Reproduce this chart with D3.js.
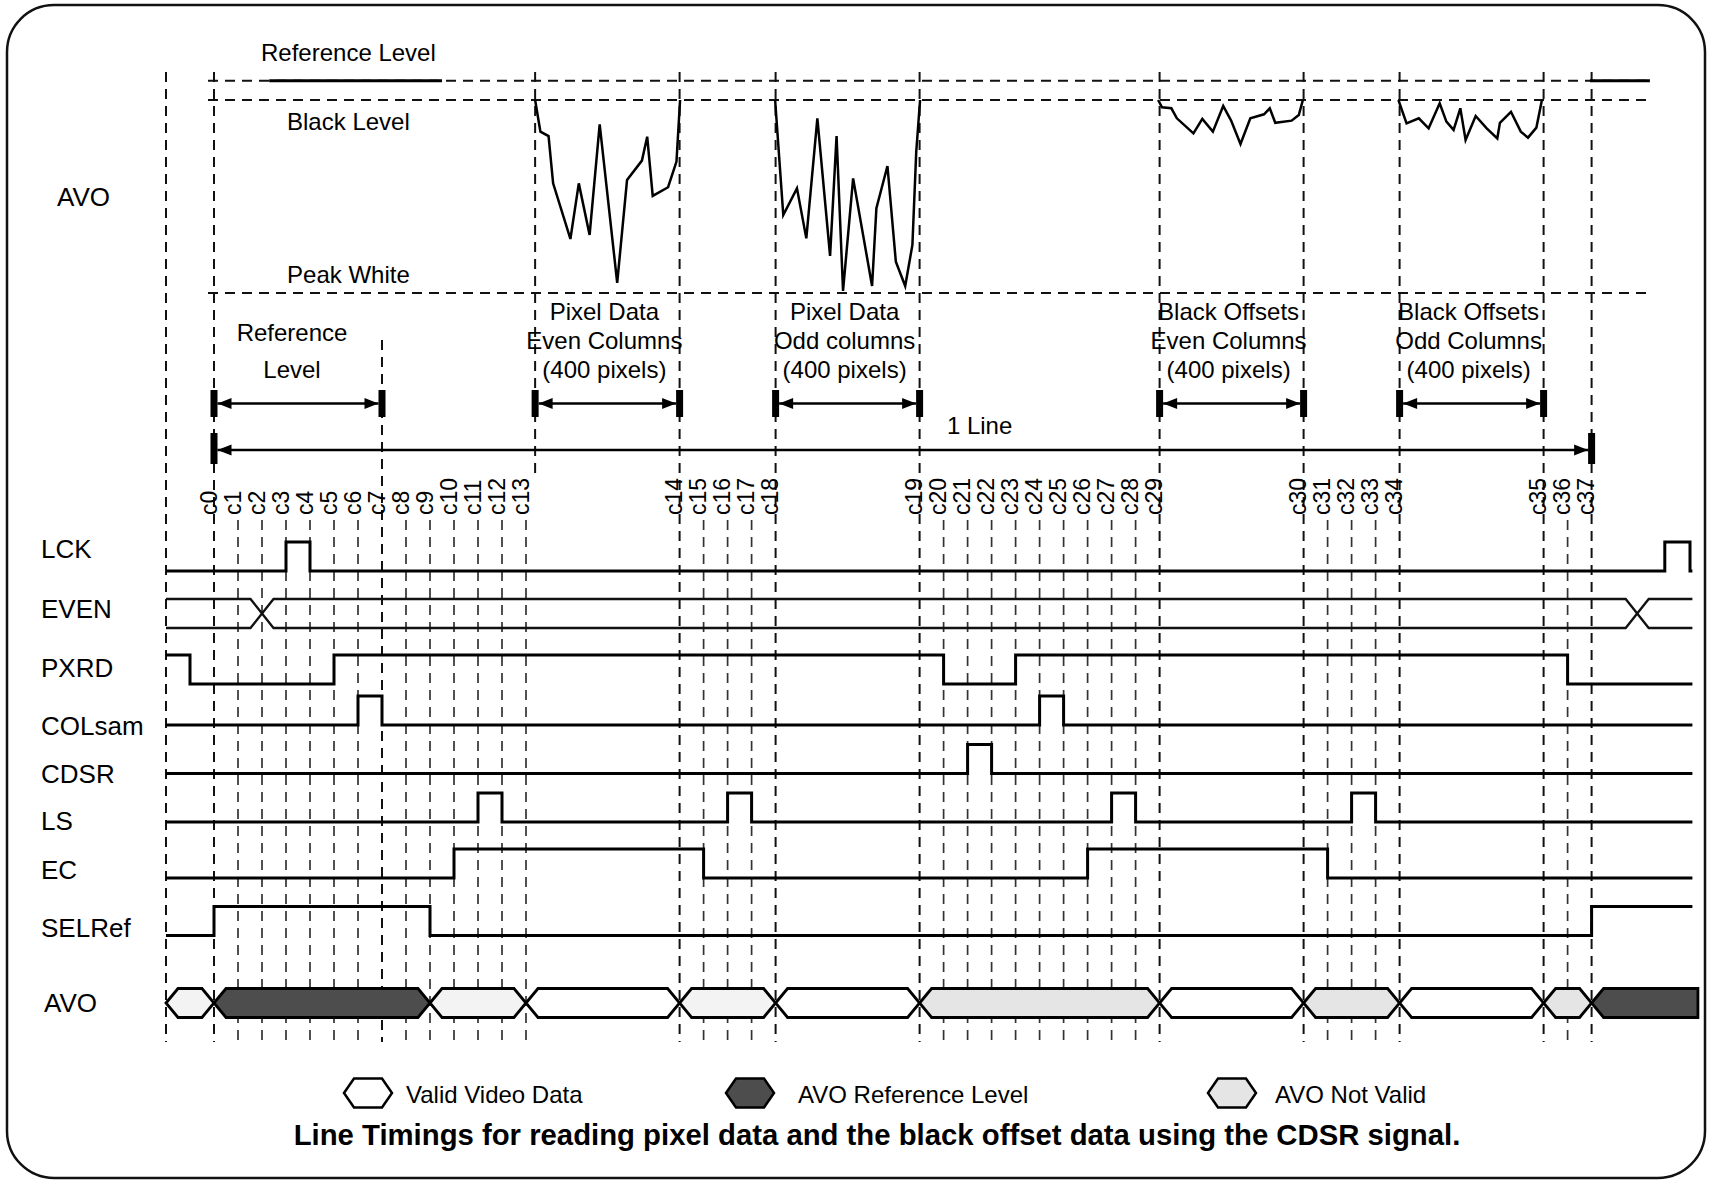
<!DOCTYPE html>
<html>
<head>
<meta charset="utf-8">
<script src="https://cdn.jsdelivr.net/npm/d3@7"></script>
<style>
  body { margin: 0; background: #fff; }
  svg { display: block; font-family: 'Liberation Sans', Arial, Helvetica, sans-serif; }
</style>
</head>
<body>
<svg id="chart" width="1716" height="1181"></svg>
<script>
// time unit = one LCK period; c0 = 0
const columnTimes = [0, 1, 2, 3, 4, 5, 6, 7, 8, 9, 10, 11, 12, 13,
  19.4, 20.4, 21.4, 22.4, 23.4,
  29.4, 30.4, 31.4, 32.4, 33.4, 34.4, 35.4, 36.4, 37.4, 38.4, 39.4,
  45.4, 46.4, 47.4, 48.4, 49.4,
  55.4, 56.4, 57.4];
const columnLabels = ['c0', 'c1', 'c2', 'c3', 'c4', 'c5', 'c6', 'c7', 'c8', 'c9', 'c10', 'c11', 'c12', 'c13',
  'c14', 'c15', 'c16', 'c17', 'c18', 'c19', 'c20', 'c21', 'c22', 'c23', 'c24', 'c25', 'c26', 'c27', 'c28', 'c29',
  'c30', 'c31', 'c32', 'c33', 'c34', 'c35', 'c36', 'c37'];

// long marker lines of the AVO panel
const markerTimes = [-2, 0, 7, 13.38, 19.4, 23.4, 29.4, 39.4, 45.4, 49.4, 55.4, 57.4];

// AVO levels (0 = black, 100 = peak white)
const levelNames = ['Reference Level', 'Black Level', 'Peak White'];
const levelValues = [-10, 0, 100];
const refSegments = [[2.3, 9.5], [57.33, 59.83]];

// AVO analogue samples [time, level]
const pixelEven = [[13.38, 0], [13.6, 16.4], [13.94, 18.7], [14.13, 43.2], [14.85, 72], [15.2, 43.2],
  [15.65, 69.9], [16.07, 12.6], [16.8, 94.7], [17.21, 41.5], [17.83, 31.4], [18.05, 19], [18.28, 49.7],
  [18.92, 45.2], [19.27, 31.9], [19.42, 0]];
const pixelOdd = [[23.38, 0], [23.72, 59.6], [24.29, 45.8], [24.68, 71.7], [25.14, 9.5], [25.67, 80.8],
  [25.94, 18.7], [26.21, 98.9], [26.63, 40.6], [27.42, 96.4], [27.6, 56.1], [28.06, 34.2], [28.41, 83.8],
  [28.8, 96.4], [29.1, 75.1], [29.26, 26.8], [29.42, 0]];
const offsetEven = [[39.34, 0], [39.5, 3.8], [39.89, 4.3], [40.12, 9.5], [40.81, 17.3], [41.18, 9.8],
  [41.62, 16.4], [42.05, 3.1], [42.38, 10.7], [42.77, 22.8], [43.18, 9.5], [43.75, 7.4], [43.99, 4.3],
  [44.22, 11.8], [44.9, 10.7], [45.2, 7.8], [45.37, 0]];
const offsetOdd = [[49.35, 0], [49.69, 12.1], [50.2, 9.5], [50.61, 14.7], [51.07, 1.7], [51.35, 11.2],
  [51.65, 15.5], [51.93, 4.3], [52.15, 20.7], [52.57, 8.3], [53.03, 14.7], [53.47, 19.9], [53.58, 11.8],
  [54.04, 6.1], [54.45, 16.4], [54.75, 19.5], [55.1, 14.3], [55.33, 0]];

// spans with arrows
const spans = [[0, 7], [13.38, 19.4], [23.4, 29.4], [39.4, 45.4], [49.4, 55.4]];
const spanTexts = [
  ['Reference', 'Level'],
  ['Pixel Data', 'Even Columns', '(400 pixels)'],
  ['Pixel Data', 'Odd columns', '(400 pixels)'],
  ['Black Offsets', 'Even Columns', '(400 pixels)'],
  ['Black Offsets', 'Odd Columns', '(400 pixels)']
];
const lineSpan = [0, 57.4];

// digital signals: [time, level] from that time on
const rowNames = ['LCK', 'EVEN', 'PXRD', 'COLsam', 'CDSR', 'LS', 'EC', 'SELRef', 'AVO'];
const lck = [[-2, 0], [3, 1], [4, 0], [60.45, 1], [61.5, 0]];
const evenCross = [2, 59.3];
const pxrd = [[-2, 1], [-1, 0], [5, 1], [30.4, 0], [33.4, 1], [56.4, 0]];
const colsam = [[-2, 0], [6, 1], [7, 0], [34.4, 1], [35.4, 0]];
const cdsr = [[-2, 0], [31.4, 1], [32.4, 0]];
const ls = [[-2, 0], [11, 1], [12, 0], [21.4, 1], [22.4, 0], [37.4, 1], [38.4, 0], [47.4, 1], [48.4, 0]];
const ec = [[-2, 0], [10, 1], [20.4, 0], [36.4, 1], [46.4, 0]];
const selref = [[-2, 0], [0, 1], [9, 0], [57.4, 1]];

// AVO bus
const busEdges = [-2, 0, 9, 13, 19.4, 23.4, 29.4, 39.4, 45.4, 49.4, 55.4, 57.4, 61.83];
const busStates = ['idle', 'ref', 'idle', 'valid', 'idle', 'valid', 'invalid', 'valid', 'invalid', 'valid', 'invalid', 'ref'];

const legendStates = ['valid', 'ref', 'invalid'];
const legendTexts = ['Valid Video Data', 'AVO Reference Level', 'AVO Not Valid'];
const caption = 'Line Timings for reading pixel data and the black offset data using the CDSR signal.';

const tStart = -2;
const tEnd = 61.6;

const svg = d3.select('#chart');
const x = d3.scaleLinear().domain([-2, 61.6]).range([166, 1692.4]);
const yA = d3.scaleLinear().domain([0, 100]).range([100, 293]);
const rowLow = d3.scaleOrdinal().domain(rowNames).range([571, 628, 684, 725, 773.5, 822, 878, 935.5, 1003]);
const rowLabelY = d3.scaleOrdinal().domain(rowNames).range([549, 608.5, 667.5, 725.5, 773.5, 821, 870, 928, 1002.5]);
const pulseH = 29;
const busFill = d3.scaleOrdinal().domain(['valid', 'ref', 'invalid', 'idle']).range(['#ffffff', '#4d4d4d', '#e5e5e5', '#f3f3f3']);

// frame
svg.append('rect')
  .attr('x', 7).attr('y', 5)
  .attr('width', 1698).attr('height', 1173)
  .attr('rx', 47)
  .attr('fill', 'none')
  .attr('stroke', '#111')
  .attr('stroke-width', 2.5);

// dashed grid
const grid = svg.append('g').attr('stroke', '#111').attr('stroke-dasharray', '10,7');
markerTimes.forEach(t => {
  const isColumn = t === -2 || columnTimes.includes(t);
  grid.append('line')
    .attr('x1', x(t)).attr('x2', x(t))
    .attr('y1', t === 7 ? 340 : 72)
    .attr('y2', isColumn ? 1042 : 476)
    .attr('stroke-width', 2);
});
columnTimes.filter(t => !markerTimes.includes(t)).forEach(t => {
  grid.append('line')
    .attr('x1', x(t)).attr('x2', x(t))
    .attr('y1', 520).attr('y2', 1042)
    .attr('stroke', '#333')
    .attr('stroke-width', 1.7);
});
levelValues.forEach(v => {
  grid.append('line')
    .attr('x1', x(-0.25)).attr('x2', x(59.83))
    .attr('y1', yA(v)).attr('y2', yA(v))
    .attr('stroke-width', 2);
});

// level labels
svg.append('g').attr('font-size', 24).attr('text-anchor', 'middle')
  .selectAll('text').data(levelNames).join('text')
  .attr('x', x(5.6))
  .attr('y', (d, i) => [52.5, 121.5, 274.7][i])
  .attr('dy', '0.35em')
  .text(d => d);

// reference level segments
svg.append('g').selectAll('line').data(refSegments).join('line')
  .attr('x1', d => x(d[0])).attr('x2', d => x(d[1]))
  .attr('y1', yA(-10)).attr('y2', yA(-10))
  .attr('stroke', '#000').attr('stroke-width', 3);

// AVO waveforms
const wave = d3.line().x(d => x(d[0])).y(d => yA(d[1]));
svg.append('g').selectAll('path').data([pixelEven, pixelOdd, offsetEven, offsetOdd]).join('path')
  .attr('d', wave)
  .attr('fill', 'none')
  .attr('stroke', '#000')
  .attr('stroke-width', 2.5)
  .attr('stroke-linejoin', 'miter');

svg.append('text')
  .attr('x', 57).attr('y', 197).attr('dy', '0.35em')
  .attr('font-size', 26)
  .text('AVO');

// span arrows
function arrow(g, t0, t1, y, barTop, barBottom) {
  const bw = 7, head = 14, hh = 5.5;
  const xa = x(t0), xb = x(t1);
  [xa, xb].forEach(xx => {
    g.append('rect')
      .attr('x', xx - bw / 2).attr('y', barTop)
      .attr('width', bw).attr('height', barBottom - barTop)
      .attr('fill', '#000');
  });
  g.append('line')
    .attr('x1', xa + bw / 2).attr('x2', xb - bw / 2)
    .attr('y1', y).attr('y2', y)
    .attr('stroke', '#000').attr('stroke-width', 2.5);
  g.append('path')
    .attr('d', `M${xa + bw / 2},${y} l${head},${-hh} l0,${2 * hh} Z`)
    .attr('fill', '#000');
  g.append('path')
    .attr('d', `M${xb - bw / 2},${y} l${-head},${-hh} l0,${2 * hh} Z`)
    .attr('fill', '#000');
}
const arrows = svg.append('g');
spans.forEach(s => arrow(arrows, s[0], s[1], 403.5, 390, 417));
arrow(arrows, lineSpan[0], lineSpan[1], 450, 433, 464);
svg.append('text')
  .attr('x', x(31.9)).attr('y', 426).attr('dy', '0.35em')
  .attr('font-size', 24).attr('text-anchor', 'middle')
  .text('1 Line');

const spanText = svg.append('g').attr('font-size', 24).attr('text-anchor', 'middle');
spans.forEach((s, i) => {
  const lines = spanTexts[i];
  const gap = lines.length === 2 ? 37 : 29;
  const shift = lines.length === 2 ? -6 : -3;
  lines.forEach((l, j) => {
    spanText.append('text')
      .attr('x', (x(s[0]) + x(s[1])) / 2 + shift)
      .attr('y', 370 - (lines.length - 1 - j) * gap)
      .attr('dy', '0.35em')
      .text(l);
  });
});

// column labels
svg.append('g').attr('font-size', 23)
  .selectAll('text').data(columnTimes).join('text')
  .attr('transform', d => `translate(${x(d) + 2.5},515) rotate(-90)`)
  .text((d, i) => columnLabels[i]);

// row labels
svg.append('g').attr('font-size', 26)
  .selectAll('text').data(rowNames).join('text')
  .attr('x', d => d === 'AVO' ? 44 : 41)
  .attr('y', d => rowLabelY(d))
  .attr('dy', '0.35em')
  .text(d => d);

// digital rows
const step = d3.line().curve(d3.curveStepAfter);
function drawSignal(name, changes) {
  const low = rowLow(name);
  const pts = changes.map(d => [x(d[0]), low - d[1] * pulseH]);
  pts.push([x(tEnd), low - changes[changes.length - 1][1] * pulseH]);
  svg.append('path')
    .attr('d', step(pts))
    .attr('fill', 'none')
    .attr('stroke', '#000')
    .attr('stroke-width', 3);
}
drawSignal('LCK', lck);
drawSignal('PXRD', pxrd);
drawSignal('COLsam', colsam);
drawSignal('CDSR', cdsr);
drawSignal('LS', ls);
drawSignal('EC', ec);
drawSignal('SELRef', selref);

// EVEN drawn as two crossing lines
const evenLow = rowLow('EVEN');
[1, 0].forEach(start => {
  const pts = [[tStart, start]];
  let s = start;
  evenCross.forEach(t => {
    pts.push([t - 0.48, s]);
    s = 1 - s;
    pts.push([t + 0.48, s]);
  });
  pts.push([tEnd, s]);
  svg.append('path')
    .attr('d', d3.line().x(d => x(d[0])).y(d => evenLow - d[1] * pulseH)(pts))
    .attr('fill', 'none')
    .attr('stroke', '#111')
    .attr('stroke-width', 2.3);
});

// AVO bus
const busC = rowLow('AVO'), busH = 14.5, slant = 12;
function hexPoints(xa, xb, c, h, s, flatRight) {
  if (flatRight) {
    return [[xa, c], [xa + s, c - h], [xb, c - h], [xb, c + h], [xa + s, c + h]];
  }
  return [[xa, c], [xa + s, c - h], [xb - s, c - h], [xb, c], [xb - s, c + h], [xa + s, c + h]];
}
svg.append('g').selectAll('polygon').data(busStates).join('polygon')
  .attr('points', (d, i) => hexPoints(x(busEdges[i]), x(busEdges[i + 1]), busC, busH, slant,
    i === busStates.length - 1).map(p => p.join(',')).join(' '))
  .attr('fill', d => busFill(d))
  .attr('stroke', '#000')
  .attr('stroke-width', 2.8)
  .attr('stroke-linejoin', 'miter');

// legend
const legend = svg.append('g');
const legendX = [368, 750, 1232];
const legendTextX = [406, 798, 1275];
legendStates.forEach((s, i) => {
  legend.append('polygon')
    .attr('points', hexPoints(legendX[i] - 24, legendX[i] + 24, 1093, 14.5, 10, false).map(p => p.join(',')).join(' '))
    .attr('fill', busFill(s))
    .attr('stroke', '#000')
    .attr('stroke-width', 2.5);
  legend.append('text')
    .attr('x', legendTextX[i])
    .attr('y', 1095)
    .attr('dy', '0.35em')
    .attr('font-size', 24)
    .text(legendTexts[i]);
});

svg.append('text')
  .attr('x', 877).attr('y', 1145)
  .attr('text-anchor', 'middle')
  .attr('font-size', 29.3)
  .attr('font-weight', 'bold')
  .text(caption);
</script>
</body>
</html>
